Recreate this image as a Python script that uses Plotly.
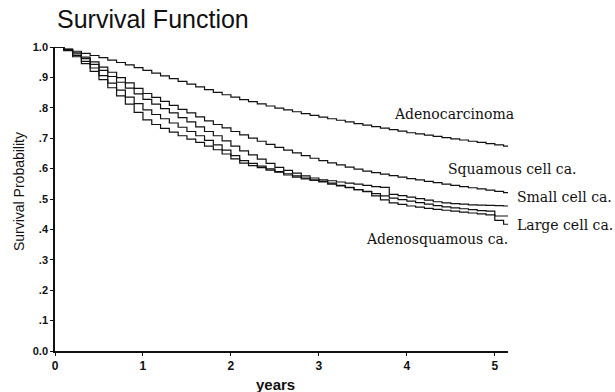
import plotly.graph_objects as go

# ---- data ----
years = [round(0.1 * i, 1) for i in range(52)] + [5.15]

adenocarcinoma = [1.000, 0.993, 0.986, 0.979, 0.972, 0.965, 0.957, 0.949, 0.941, 0.932,
                  0.923, 0.914, 0.905, 0.896, 0.887, 0.878, 0.869, 0.860, 0.851, 0.843,
                  0.835, 0.827, 0.820, 0.813, 0.806, 0.799, 0.793, 0.787, 0.781, 0.775,
                  0.769, 0.764, 0.759, 0.754, 0.748, 0.743, 0.738, 0.733, 0.728, 0.723,
                  0.718, 0.714, 0.710, 0.706, 0.702, 0.698, 0.694, 0.690, 0.686, 0.682,
                  0.678, 0.674, 0.674]
squamous = [1.000, 0.992, 0.981, 0.967, 0.951, 0.934, 0.917, 0.899, 0.882, 0.864,
            0.847, 0.834, 0.821, 0.808, 0.795, 0.783, 0.770, 0.757, 0.745, 0.734,
            0.722, 0.711, 0.700, 0.690, 0.680, 0.670, 0.661, 0.652, 0.643, 0.634,
            0.626, 0.619, 0.612, 0.605, 0.598, 0.592, 0.587, 0.582, 0.577, 0.572,
            0.567, 0.563, 0.558, 0.554, 0.549, 0.545, 0.541, 0.537, 0.533, 0.529,
            0.525, 0.521, 0.519]
small_cell = [1.000, 0.990, 0.977, 0.962, 0.943, 0.923, 0.903, 0.884, 0.865, 0.846,
              0.828, 0.812, 0.797, 0.783, 0.768, 0.754, 0.737, 0.722, 0.708, 0.691,
              0.674, 0.658, 0.645, 0.631, 0.617, 0.604, 0.594, 0.585, 0.576, 0.569,
              0.563, 0.560, 0.556, 0.552, 0.549, 0.545, 0.541, 0.538, 0.515, 0.511,
              0.506, 0.501, 0.496, 0.491, 0.487, 0.485, 0.483, 0.481, 0.480, 0.479,
              0.478, 0.477, 0.477]
large_cell = [1.000, 0.989, 0.972, 0.953, 0.931, 0.906, 0.881, 0.858, 0.835, 0.814,
              0.793, 0.778, 0.764, 0.750, 0.736, 0.722, 0.708, 0.693, 0.678, 0.661,
              0.643, 0.626, 0.617, 0.608, 0.599, 0.590, 0.583, 0.576, 0.569, 0.562,
              0.556, 0.549, 0.543, 0.537, 0.531, 0.525, 0.518, 0.510, 0.503, 0.498,
              0.493, 0.488, 0.483, 0.478, 0.474, 0.471, 0.468, 0.465, 0.462, 0.460,
              0.444, 0.444, 0.444]
adenosquamous = [1.000, 0.988, 0.968, 0.945, 0.920, 0.893, 0.866, 0.839, 0.812, 0.785,
                 0.760, 0.745, 0.732, 0.720, 0.708, 0.697, 0.686, 0.674, 0.662, 0.648,
                 0.632, 0.618, 0.610, 0.603, 0.595, 0.588, 0.579, 0.572, 0.566, 0.562,
                 0.558, 0.552, 0.545, 0.538, 0.531, 0.524, 0.510, 0.497, 0.487, 0.482,
                 0.477, 0.473, 0.469, 0.466, 0.463, 0.460, 0.457, 0.454, 0.451, 0.448,
                 0.430, 0.417, 0.417]

series = [adenocarcinoma, squamous, small_cell, large_cell, adenosquamous]

x_ticks = [0, 1, 2, 3, 4, 5]
y_tickvals = [0.0, 0.1, 0.2, 0.3, 0.4, 0.5, 0.6, 0.7, 0.8, 0.9, 1.0]
y_ticktext = ["0.0", ".1", ".2", ".3", ".4", ".5", ".6", ".7", ".8", ".9", "1.0"]

# label text with (x, y) in data / paper coords
labels = [
    ("Adenocarcinoma", 3.83, "x", 0.78),
    ("Squamous cell ca.", 4.45, "x", 0.598),
    ("Small cell ca.", 1.0155, "paper", 0.506),
    ("Large cell ca.", 1.0155, "paper", 0.414),
    ("Adenosquamous ca.", 3.51, "x", 0.367),
]

fig = go.Figure()
for s in series:
    fig.add_trace(go.Scatter(x=years, y=s, mode="lines", line_shape="hv",
                             line=dict(color="#111111", width=1.2),
                             showlegend=False, cliponaxis=False, hoverinfo="skip"))

sans = "Liberation Sans, Arial, sans-serif"
serif = "DejaVu Serif, serif"

for text, x, xref, y in labels:
    fig.add_annotation(text=text, x=x, xref=xref, y=y, yref="y",
                       xanchor="left", yanchor="middle", showarrow=False,
                       font=dict(family=serif, size=14, color="#111111"))

fig.add_annotation(text="Survival Probability", x=-0.0795, xref="paper",
                   y=0.526, yref="paper", textangle=-90, showarrow=False,
                   xanchor="center", yanchor="middle",
                   font=dict(family=sans, size=14, color="#111111"))
fig.add_annotation(text="<b>years</b>", x=0.486, xref="paper", y=-0.1086,
                   yref="paper", showarrow=False, xanchor="center",
                   yanchor="middle",
                   font=dict(family=sans, size=15, color="#111111"))

fig.update_layout(
    width=615, height=392,
    margin=dict(l=55, r=107, t=47, b=41),
    paper_bgcolor="white", plot_bgcolor="white",
    title=dict(text="Survival Function", x=57 / 615, xref="container",
               xanchor="left", y=1 - 19 / 392, yref="container",
               yanchor="middle",
               font=dict(family=sans, size=25, color="#111111")),
    xaxis=dict(range=[0, 5.15], tickvals=x_ticks,
               ticktext=[f"<b>{v}</b>" for v in x_ticks],
               showgrid=False, zeroline=False, showline=True,
               linecolor="#111111", linewidth=1.5, ticks="outside",
               ticklen=3, tickcolor="#111111",
               tickfont=dict(family=sans, size=12, color="#111111")),
    yaxis=dict(range=[0, 1.0], tickvals=y_tickvals,
               ticktext=[f"<b>{t}</b>" for t in y_ticktext],
               showgrid=False, zeroline=False, showline=True,
               linecolor="#111111", linewidth=1.5, ticks="outside",
               ticklen=3, tickcolor="#111111",
               tickfont=dict(family=sans, size=11, color="#111111")),
)

fig.write_html("out.html")
